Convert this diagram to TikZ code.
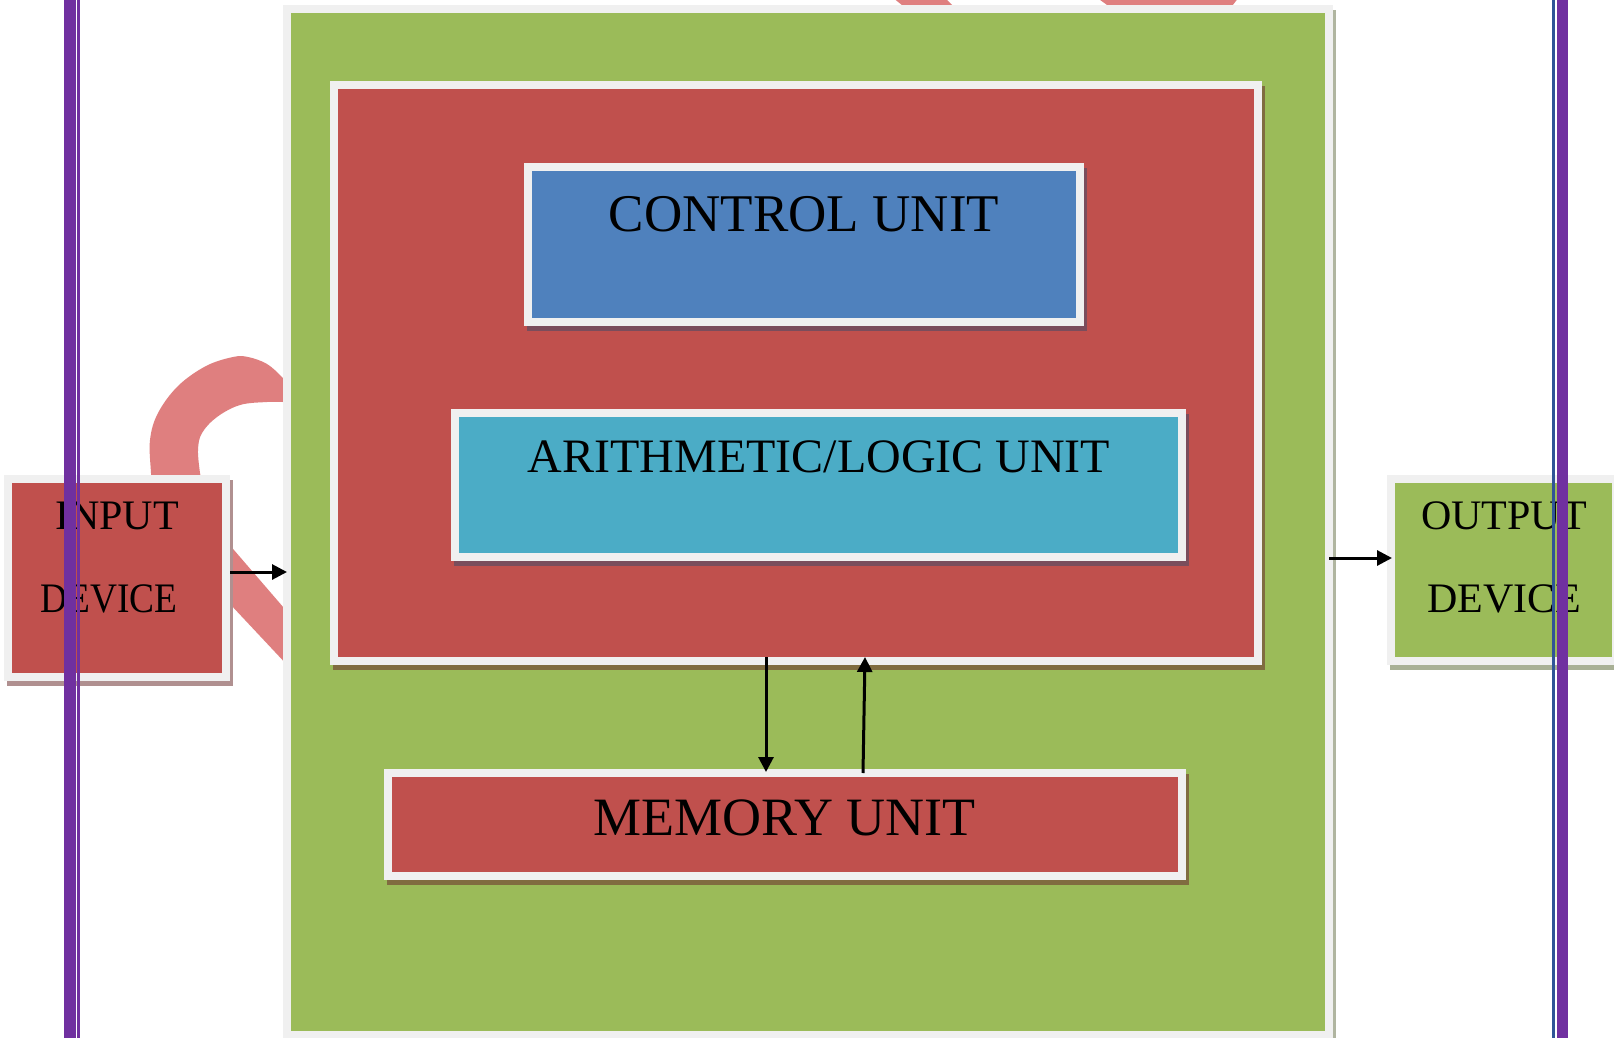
\documentclass[tikz,border=0pt]{standalone}
\usepackage{fontspec}
\usepackage{graphicx}
\setmainfont{Liberation Serif}
\usetikzlibrary{arrows.meta,calc}
\definecolor{greenc}{HTML}{9BBB59}
\definecolor{redc}{HTML}{C0504D}
\definecolor{bluec}{HTML}{4F81BD}
\definecolor{cyanc}{HTML}{4BACC6}
\definecolor{borderc}{HTML}{F0F0F0}
\definecolor{pinkc}{HTML}{DF7F7F}
\definecolor{purplec}{HTML}{7030A0}
\definecolor{thinblue}{HTML}{2F5597}
\definecolor{shredbg}{HTML}{7A4D5C}
\definecolor{shgreenbg}{HTML}{806C40}
\definecolor{shinput}{HTML}{B09090}
\definecolor{shoutput}{HTML}{A8B095}
\definecolor{shcpu}{HTML}{B0B5A0}
\begin{document}
\begin{tikzpicture}[x=1pt,y=-1pt,
  unitbox/.style={draw=borderc,line width=8pt,inner sep=0pt},
  shadowed/.style={preaction={fill=#1,draw=#1,line width=8pt,transform canvas={shift={(3pt,-5pt)}}}},
  lbl/.style={inner sep=0pt,anchor=base,text=black},
  arr/.style={line width=3pt,-{Triangle[length=15pt,width=15pt]}}]
\useasboundingbox (0,0) rectangle (1614,1038);
\fill[white] (0,0) rectangle (1614,1038);
% pink background arrow, visible parts
\fill[pinkc] plot[smooth,tension=0.6] coordinates {(300,396) (283,378) (267,364) (248,357) (233,357) (206,366) (178,386) (158,413) (150,440) (151,473) (153,500)}
  -- (205,500)
  -- plot[smooth,tension=0.6] coordinates {(200,473) (198,450) (202,433) (217,417) (240,405) (267,402) (283,402) (300,402)} -- cycle;
\fill[pinkc] (215,528) -- (290,615) -- (290,668) -- (215,588) -- cycle;
\fill[pinkc] (892,-3) -- (944,-3) -- (957,10) -- (908,10) -- cycle;
\fill[pinkc] (1096,-3) -- (1239,-3) -- (1229,10) -- (1114,10) -- cycle;
% boxes
\node[unitbox,shadowed=shcpu,fill=greenc,minimum width=1042pt,minimum height=1026pt] (cpu) at (808,522) {};
\node[unitbox,shadowed=shgreenbg,fill=redc,minimum width=924pt,minimum height=576pt] (core) at (796,373) {};
\node[unitbox,shadowed=shredbg,fill=bluec,minimum width=552pt,minimum height=155pt] (cu) at (804,244.5) {};
\node[unitbox,shadowed=shredbg,fill=cyanc,minimum width=727pt,minimum height=144pt] (alu) at (818.5,485) {};
\node[unitbox,shadowed=shgreenbg,fill=redc,minimum width=794pt,minimum height=103pt] (mem) at (785,824.5) {};
\node[unitbox,shadowed=shinput,fill=redc,minimum width=218pt,minimum height=198pt] (in) at (117,578) {};
\node[unitbox,shadowed=shoutput,fill=greenc,minimum width=225pt,minimum height=182pt] (out) at (1503.5,570) {};
% texts
\node[lbl,font=\fontsize{53}{60}\selectfont] (cutext) at (804,231.6) {CONTROL UNIT};
\node[lbl,font=\fontsize{48}{56}\selectfont] (alutext) at (819,472.5) {ARITHMETIC/LOGIC UNIT};
\node[lbl,font=\fontsize{54}{60}\selectfont] (memtext) at (784.5,835.8) {MEMORY UNIT};
\node[lbl,font=\fontsize{42}{48}\selectfont] (intext1) at (117,529) {INPUT};
\node[lbl,font=\fontsize{42}{48}\selectfont] (intext2) at (109,612) {\scalebox{0.89}[1]{DEVICE}};
\node[lbl,font=\fontsize{42}{48}\selectfont] (outtext1) at (1504,529) {OUTPUT};
\node[lbl,font=\fontsize{42}{48}\selectfont] (outtext2) at (1504,612) {DEVICE};
% connectors
\draw[arr] (in.east |- 0,572) -- ([xshift=4pt]cpu.west |- 0,572);
\draw[arr] ([xshift=-4pt]cpu.east |- 0,558) -- ([xshift=5pt]out.west |- 0,558);
\draw[arr] ($(core.south -| 766,0)+(0,-8)$) -- ($(mem.north -| 766,0)+(0,3)$);
\draw[arr] ($(mem.north -| 863,0)+(0,4)$) -- ($(core.south -| 865,0)+(0,-8)$);
% vertical purple lines
\fill[purplec] (64,0) rectangle (76,1038);
\fill[purplec] (77,0) rectangle (79.5,1038);
\fill[thinblue] (1552,0) rectangle (1554.5,1038);
\fill[purplec] (1557,0) rectangle (1568,1038);
\end{tikzpicture}
\end{document}
